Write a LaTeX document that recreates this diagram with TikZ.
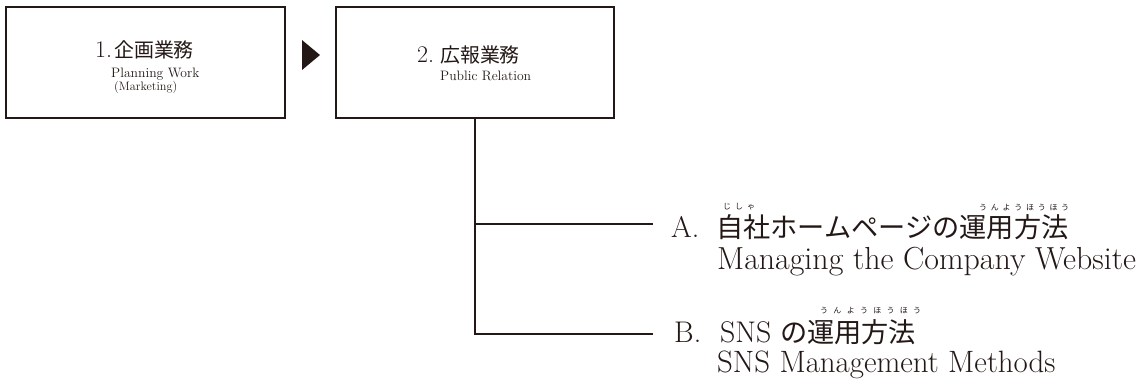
\documentclass[tikz,border=0pt]{standalone}
\usepackage{fontspec}
\newfontfamily\jp{Noto Sans CJK JP}
\definecolor{ink}{HTML}{231815}
\begin{document}
\begin{tikzpicture}[x=1bp,y=-1bp,
  box/.style={draw=ink, line width=1.8bp, inner sep=0pt, minimum height=111bp},
  conn/.style={draw=ink, line width=1.8bp},
  txt/.style={text=ink, inner sep=0pt, anchor=base west},
  title/.style={txt, font=\fontsize{24}{24}\selectfont},
  small/.style={txt, font=\fontsize{13.7}{13.7}\selectfont},
  mainline/.style={txt, font=\fontsize{30}{30}\selectfont},
  eng/.style={txt, font=\fontsize{32}{32}\selectfont},
  ruby/.style={txt, font=\jp\fontsize{8}{8}\selectfont}]
\useasboundingbox (0,0) rectangle (1144,387);
% boxes
\node[box, minimum width=279bp] (b1) at (145.5,62.5) {};
\node[box, minimum width=278bp] (b2) at (475,62.5) {};
% box texts
\node[title] (t1) at (95,57) {\makebox[19bp][l]{1.}{\jp\fontsize{20}{20}\selectfont 企画業務}};
\node[small] (t1e) at (111,77) {Planning Work};
\node[small, font=\fontsize{12.3}{12.3}\selectfont] (t1m) at (114,90) {(Marketing)};
\node[title] (t2) at (417,62) {\makebox[23bp][l]{2.}{\jp\fontsize{20}{20}\selectfont 広報業務}};
\node[small] (t2e) at (440,80) {Public Relation};
% arrow triangle
\fill[ink] (302,40) -- (320,55) -- (302,70) -- cycle;
% connectors
\coordinate (ja) at (475,224);
\coordinate (jb) at (475,334);
\coordinate (ea) at (653,224);
\coordinate (eb) at (653,334);
\draw[conn] (b2.south) -- (jb) -- (eb);
\draw[conn] (ja) -- (ea);
% item A
\node[mainline] (la) at (671,237) {\makebox[45bp][l]{A.}{\jp\fontsize{27.3}{27.3}\selectfont 自社ホームページの運用方法}};
\node[ruby] (ra1) at (723,209) {\makebox[32bp][l]{じ\hfill し\hfill ゃ}};
\node[ruby] (ra2) at (979,210) {\makebox[90bp][l]{う\hfill ん\hfill よ\hfill う\hfill ほ\hfill う\hfill ほ\hfill う}};
\node[eng] (ea1) at (717,269) {Managing the Company Website};
% item B
\node[mainline] (lb) at (674,342) {\makebox[46bp][l]{B.}\makebox[60bp][l]{SNS}{\jp\fontsize{27.3}{27.3}\selectfont の運用方法}};
\node[ruby] (rb) at (820,313) {\makebox[101bp][l]{う\hfill ん\hfill よ\hfill う\hfill ほ\hfill う\hfill ほ\hfill う}};
\node[eng, font=\fontsize{31}{31}\selectfont] (eb1) at (717,372) {SNS Management Methods};
\end{tikzpicture}
\end{document}
